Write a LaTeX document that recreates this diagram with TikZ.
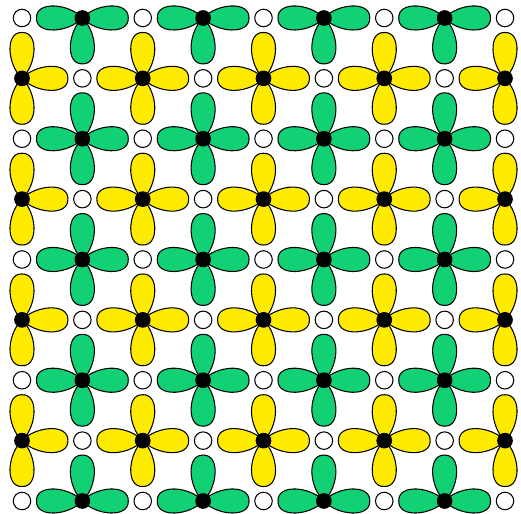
\documentclass[tikz,border=0pt]{standalone}
\usepackage{xcolor}
\definecolor{orbamarillo}{HTML}{FFEB00}
\definecolor{orbverde}{HTML}{12D174}
\tikzset{
  lobulo/.style={draw=black, line width=0.5pt},
  nucleo/.style={circle, fill=black, inner sep=0pt, minimum size=0.26cm},
  hueco/.style={circle, draw=black, fill=white, inner sep=0pt, minimum size=0.29cm, line width=0.5pt},
}
% one lobe: position, angle, colour
\newcommand{\petalo}[3]{%
  \path[lobulo, fill=#3, shift={#1}, rotate=#2]
    (0,0) .. controls (0.22,0.24) and (0.77,0.29) .. (0.76,0)
          .. controls (0.77,-0.29) and (0.22,-0.24) .. (0,0) -- cycle;}

\begin{document}
\begin{tikzpicture}
  \useasboundingbox (-0.3644,0.298) rectangle (8.265,-8.215);
  % green lobes (even rows, odd columns)
  \foreach \r in {0,2,4,6,8} {
    \foreach \c in {1,3,5,7} {
      \petalo{(\c,-\r)}{0}{orbverde}
      \petalo{(\c,-\r)}{180}{orbverde}
      \ifnum\r>0 \petalo{(\c,-\r)}{90}{orbverde}\fi
      \ifnum\r<8 \petalo{(\c,-\r)}{270}{orbverde}\fi
      \node[nucleo] (v-\r-\c) at (\c,-\r) {};
    }
  }
  % yellow lobes (odd rows, even columns)
  \foreach \r in {1,3,5,7} {
    \foreach \c in {0,2,4,6,8} {
      \petalo{(\c,-\r)}{90}{orbamarillo}
      \petalo{(\c,-\r)}{270}{orbamarillo}
      \ifnum\c>0 \petalo{(\c,-\r)}{180}{orbamarillo}\fi
      \ifnum\c<8 \petalo{(\c,-\r)}{0}{orbamarillo}\fi
      \node[nucleo] (a-\r-\c) at (\c,-\r) {};
    }
  }
  % empty sites
  \foreach \r in {0,...,8} {
    \foreach \c in {0,...,8} {
      \pgfmathtruncatemacro{\paridad}{mod(\r+\c,2)}
      \ifnum\paridad=0 \node[hueco] (h-\r-\c) at (\c,-\r) {};\fi
    }
  }
\end{tikzpicture}
\end{document}
